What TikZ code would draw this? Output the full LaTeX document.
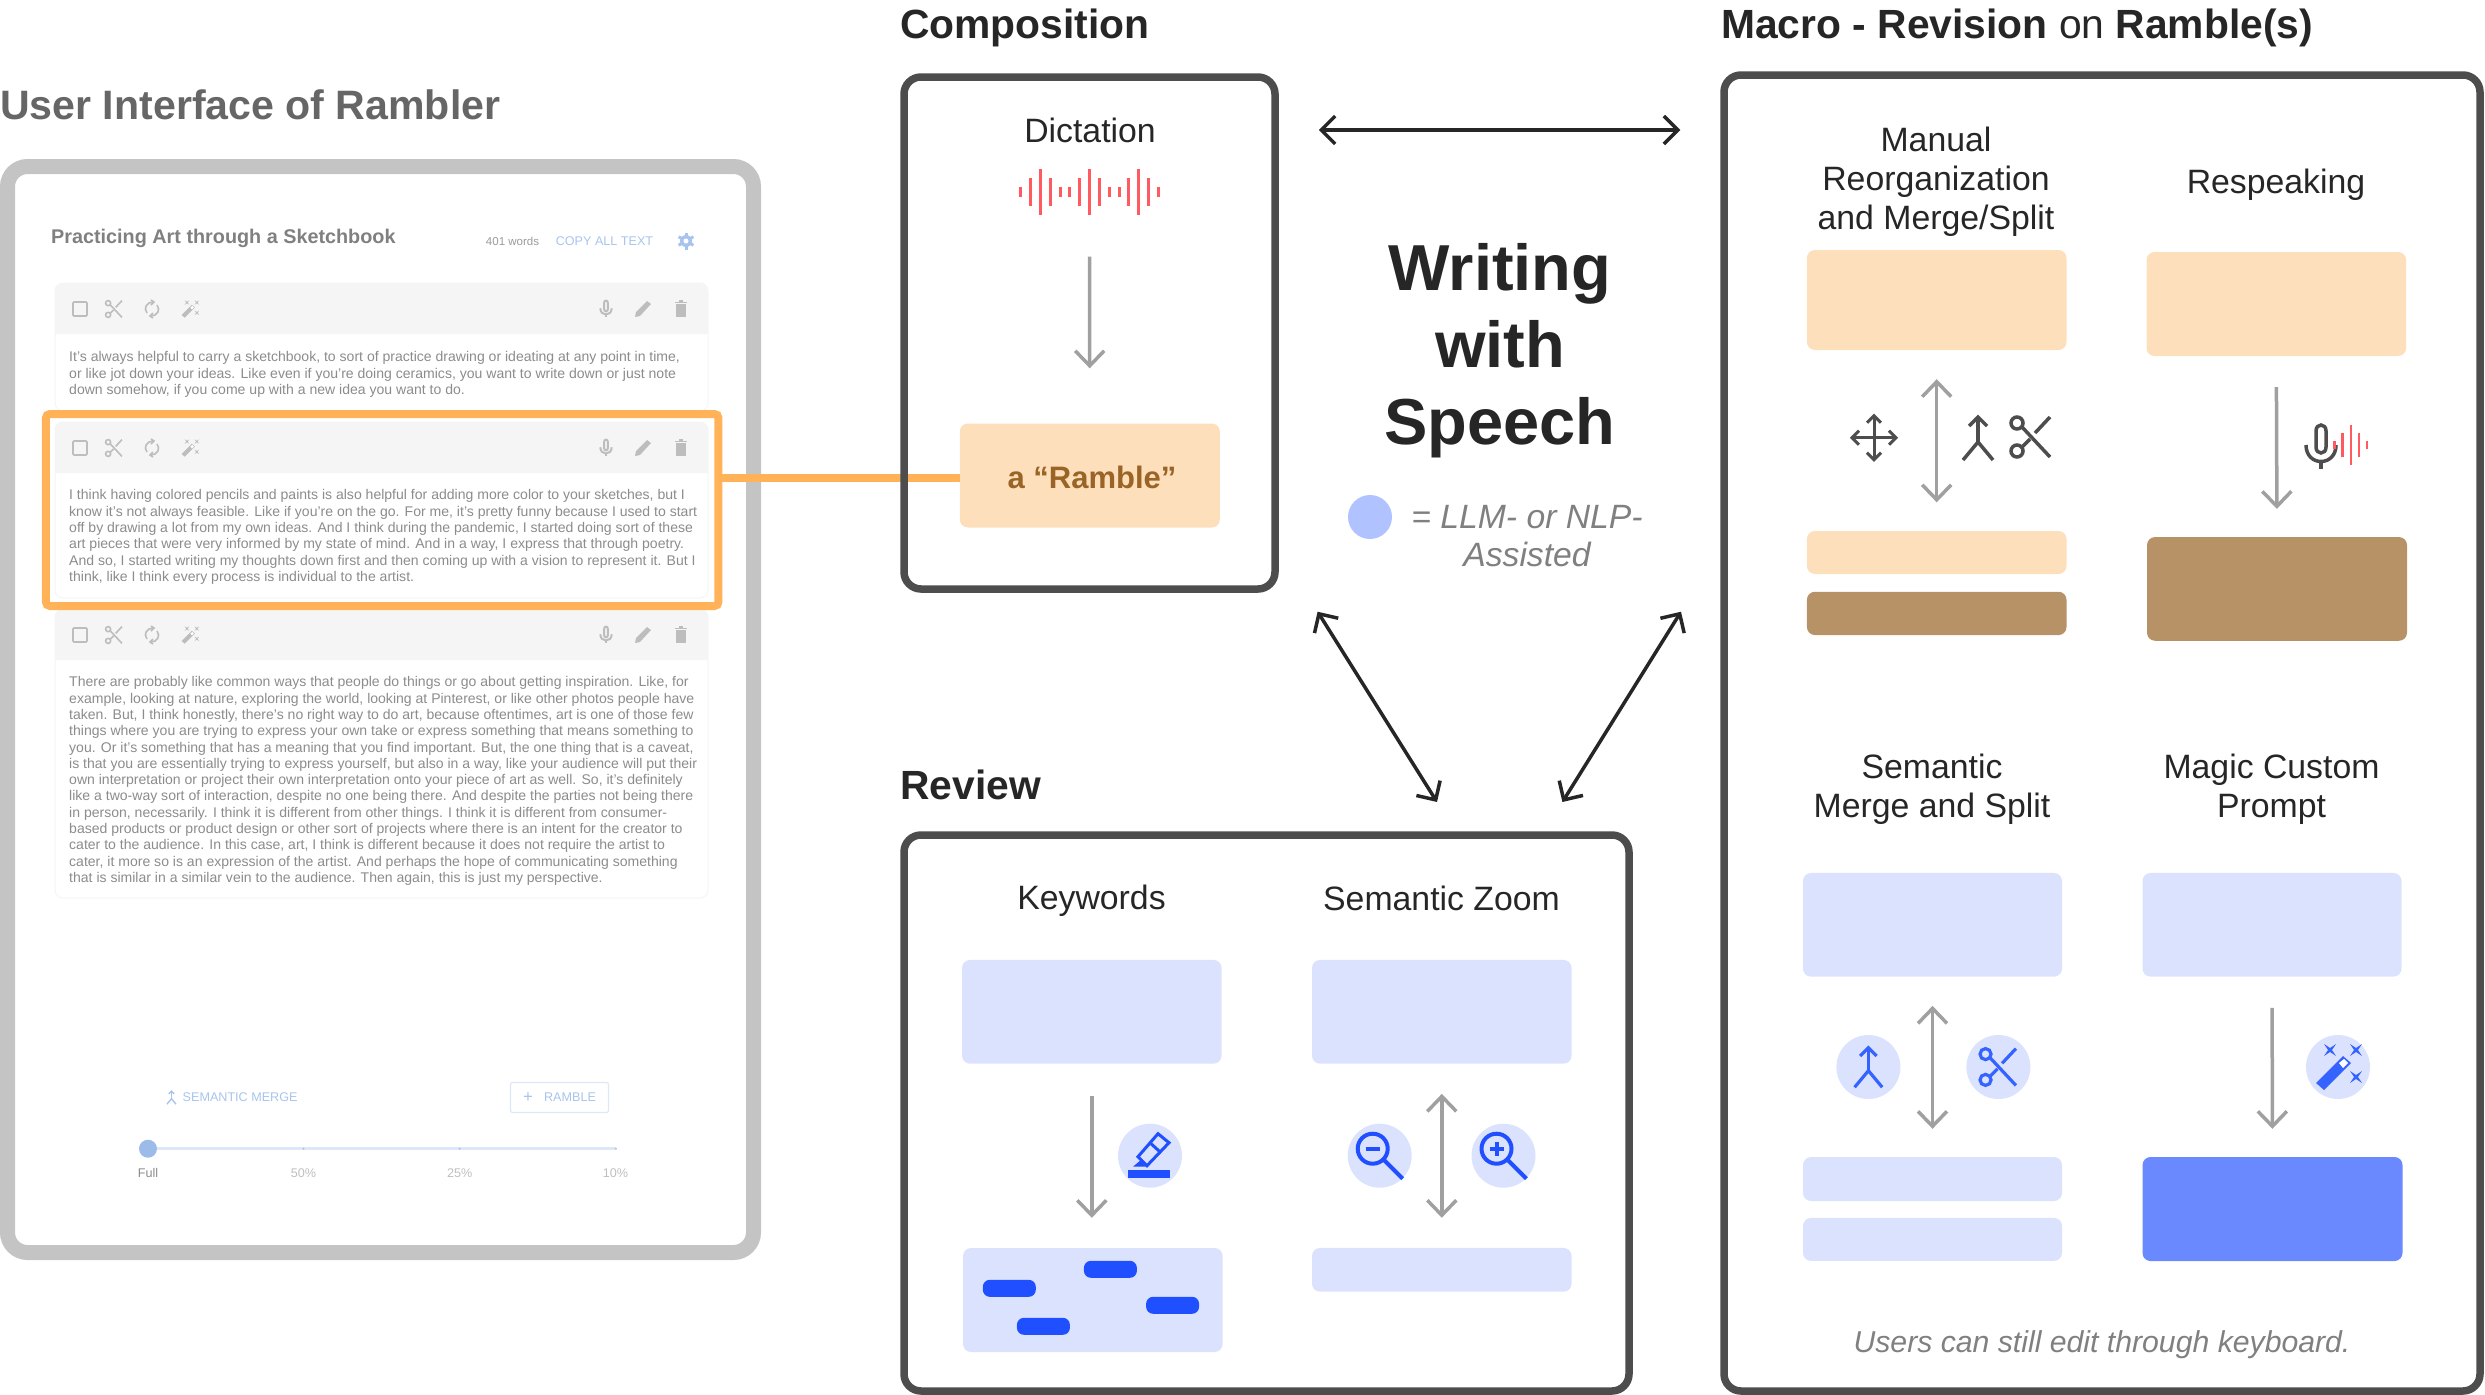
\documentclass[tikz,border=0pt]{standalone}
\usepackage{fontspec}
\setmainfont{Liberation Sans}
\usetikzlibrary{arrows.meta}

\definecolor{peachfill}{HTML}{FDDFBB}
\definecolor{brownfill}{HTML}{B89267}
\definecolor{lilacfill}{HTML}{DBE2FE}
\definecolor{bluefill}{HTML}{6A89FF}
\definecolor{iconblue}{HTML}{3563FF}
\definecolor{pillblue}{HTML}{1F4FFF}
\definecolor{framegray}{HTML}{4D4D4D}
\definecolor{arrowgray}{HTML}{A0A0A0}
\definecolor{inkblack}{HTML}{262626}
\definecolor{uiframe}{HTML}{C4C4C4}
\definecolor{hiliteorange}{HTML}{FFB257}
\definecolor{wavered}{HTML}{FF5A5F}
\definecolor{legendblue}{HTML}{B0C2FF}
\definecolor{captiongray}{HTML}{808080}
\definecolor{uiblue}{HTML}{A8C4EE}
\definecolor{uiknobfill}{HTML}{9DBBE8}
\definecolor{ramblebrown}{HTML}{9A6427}
\definecolor{uiicon}{HTML}{BDBDBD}
\definecolor{uitext}{HTML}{8C8C8C}

\tikzset{
  softbox/.style={rectangle, rounded corners=8pt, inner sep=0pt},
  peachbox/.style={softbox, fill=peachfill},
  brownbox/.style={softbox, fill=brownfill},
  lilacbox/.style={softbox, fill=lilacfill},
  bluebox/.style={softbox, fill=bluefill},
  pillbox/.style={rectangle, rounded corners=7pt, fill=pillblue, minimum width=53pt, minimum height=17pt, inner sep=0pt},
  panel/.style={rectangle, draw=framegray, line width=7.5pt, rounded corners=17pt, inner sep=0pt},
  heading/.style={inner sep=0pt, anchor=west, text=inkblack, font=\fontsize{40.8}{48}\selectfont\bfseries},
  sublabel/.style={inner sep=0pt, align=center, text=inkblack, font=\fontsize{33.8}{39}\selectfont},
  caption/.style={inner sep=0pt, align=center, text=captiongray, font=\fontsize{33.7}{38}\selectfont\itshape},
  para/.style={inner sep=0pt, anchor=north west, align=left, text=uitext, font=\fontsize{14.04}{16.3}\selectfont},
  uismall/.style={inner sep=0pt, font=\fontsize{12.6}{15}\selectfont},
  grayarrow/.style={draw=arrowgray, line width=3.5pt, >={Straight Barb[length=15pt,width=29pt,line width=3.5pt]}},
  blackarrow/.style={draw=inkblack, line width=3.5pt, >={Straight Barb[length=14pt,width=28pt,line width=3.5pt]}},
  wavebar/.style={draw=wavered, line width=3pt},
  iconback/.style={circle, fill=lilacfill, minimum size=64pt, inner sep=0pt},
  scissoricon/.pic={
    \draw (-14,-14) circle[radius=6pt];
    \draw (-14,14) circle[radius=6pt];
    \draw (-9,-10) -- (19,20);
    \draw (-9,10) -- (-1,2);
    \draw (4,-4) -- (19,-20);
  },
  mergeicon/.pic={
    \draw (-9,-12) -- (0,-21) -- (9,-12);
    \draw (0,-21) -- (0,4);
    \draw (-15,22) -- (0,4) -- (15,22);
  },
  moveicon/.pic={
    \draw (-22,0) -- (22,0);
    \draw (0,-22) -- (0,22);
    \draw (-15,-7) -- (-22,0) -- (-15,7);
    \draw (15,-7) -- (22,0) -- (15,7);
    \draw (-7,-15) -- (0,-22) -- (7,-15);
    \draw (-7,15) -- (0,22) -- (7,15);
  },
  micicon/.pic={
    \draw (-5,-16) .. controls (-5,-24) and (5,-24) .. (5,-16) -- (5,0) .. controls (5,8) and (-5,8) .. (-5,0) -- cycle;
    \draw (-15,-2) .. controls (-15,20) and (15,20) .. (15,-2);
    \draw (0,13) -- (0,22);
  },
  zoomouticon/.pic={
    \draw (-7,-7) circle[radius=15pt];
    \draw (4,4) -- (23,23);
    \draw (-14,-7) -- (0,-7);
  },
  zoominicon/.pic={
    \draw (-7,-7) circle[radius=15pt];
    \draw (4,4) -- (23,23);
    \draw (-14,-7) -- (0,-7);
    \draw (-7,-14) -- (-7,0);
  },
  highlighticon/.pic={
    \draw (-12,1) -- (8,-22) -- (19,-13) -- (-3,10) -- cycle;
    \draw (1,-12) -- (11,-3);
    \fill (-10,5) -- (-17,11) -- (-4,11) -- cycle;
    \fill (-22,14) rectangle (20,22);
  },
  wandicon/.pic={
    \fill (-22,16) -- (5,-11) -- (13,-4) -- (-14,23) -- cycle;
    \fill[white] (1,-4) -- (6,-8) -- (10,-4) -- (5,1) -- cycle;
    \foreach \sx/\sy in {-8/-17, 18/-17, 18/10} {
      \fill (\sx-6,\sy-6) -- (\sx,\sy-2) -- (\sx+6,\sy-6) -- (\sx+2,\sy) -- (\sx+6,\sy+6) -- (\sx,\sy+2) -- (\sx-6,\sy+6) -- (\sx-2,\sy) -- cycle;
    }
  },
  refreshicon/.pic={
    \draw (-5,4) .. controls (-9,-1) and (-5,-7) .. (1,-7);
    \draw (5,-4) .. controls (9,1) and (5,7) .. (-1,7);
    \draw (-1,-9) -- (2,-7) -- (-1,-4);
    \draw (1,9) -- (-2,7) -- (1,4);
  },
  penicon/.pic={
    \fill (-8,8) -- (-7,3) -- (4,-8) -- (8,-5) -- (-3,7) -- cycle;
  },
  trashicon/.pic={
    \fill (-5,-5) rectangle (5,8);
    \fill (-6,-7) rectangle (6,-6);
    \fill (-2,-9) rectangle (2,-7);
  },
  gearicon/.pic={
    \fill (0,0) circle[radius=6pt];
    \foreach \a in {30,90,...,330} {\draw[line width=3pt] (0,0) -- (\a:8.5pt);}
    \fill[white] (0,0) circle[radius=2.5pt];
  }
}

\begin{document}
\begin{tikzpicture}[x=1pt, y=-1pt, line cap=butt]
\useasboundingbox (0,0) rectangle (2485,1395);

\node[heading, text=black!60, font=\fontsize{41.1}{48}\selectfont\bfseries] (uititle) at (0,105) {User Interface of Rambler};
\node[rectangle, draw=uiframe, line width=15pt, rounded corners=20pt, minimum width=746pt, minimum height=1086pt, inner sep=0pt] (uiframe) at (380.5,709.5) {};

\node[inner sep=0pt, anchor=west, text=captiongray, font=\fontsize{19.8}{24}\selectfont\bfseries] (uidoc) at (51,238) {Practicing Art through a Sketchbook};
\node[uismall, text=captiongray!80, font=\fontsize{11.5}{14}\selectfont] (uiwords) at (512.5,241) {401 words};
\node[uismall, text=uiblue] (uicopy) at (604.5,241) {COPY ALL TEXT};
\pic[color=uiblue] at (686,241) {gearicon};

\foreach \t/\h/\b in {283/334/411, 422/473/598, 609/660/898} {
  \draw[draw=black!4, fill=white, line width=1pt, rounded corners=8pt] (55,\t) rectangle (708,\b);
  \fill[black!4, rounded corners=8pt] (55,\h) -- (55,\t) -- (708,\t) -- (708,\h);
  \draw[uiicon, line width=1.6pt, rounded corners=1pt] (73,\h-32) rectangle (87,\h-18);
  \pic[color=uiicon, scale=.42, line width=1.6pt] at (114,\h-25) {scissoricon};
  \pic[color=uiicon, line width=1.6pt] at (152,\h-25) {refreshicon};
  \pic[color=uiicon, scale=.38] at (190,\h-25) {wandicon};
  \pic[color=uiicon, scale=.38, line width=2pt] at (606,\h-25) {micicon};
  \pic[color=uiicon] at (643,\h-25) {penicon};
  \pic[color=uiicon] at (681,\h-25) {trashicon};
}

\node[para] (parafirst) at (69,351.5) {It's always helpful to carry a sketchbook, to sort of practice drawing or ideating at any point in time,\\or like jot down your ideas. Like even if you're doing ceramics, you want to write down or just note\\down somehow, if you come up with a new idea you want to do.};
\node[para] (parasecond) at (69,489.5) {I think having colored pencils and paints is also helpful for adding more color to your sketches, but I\\know it's not always feasible. Like if you're on the go. For me, it's pretty funny because I used to start\\off by drawing a lot from my own ideas. And I think during the pandemic, I started doing sort of these\\art pieces that were very informed by my state of mind. And in a way, I express that through poetry.\\And so, I started writing my thoughts down first and then coming up with a vision to represent it. But I\\think, like I think every process is individual to the artist.};
\node[para] (parathird) at (69,676.5) {There are probably like common ways that people do things or go about getting inspiration. Like, for\\example, looking at nature, exploring the world, looking at Pinterest, or like other photos people have\\taken. But, I think honestly, there's no right way to do art, because oftentimes, art is one of those few\\things where you are trying to express your own take or express something that means something to\\you. Or it's something that has a meaning that you find important. But, the one thing that is a caveat,\\is that you are essentially trying to express yourself, but also in a way, like your audience will put their\\own interpretation or project their own interpretation onto your piece of art as well. So, it's definitely\\like a two-way sort of interaction, despite no one being there. And despite the parties not being there\\in person, necessarily. I think it is different from other things. I think it is different from consumer-\\based products or product design or other sort of projects where there is an intent for the creator to\\cater to the audience. In this case, art, I think is different because it does not require the artist to\\cater, it more so is an expression of the artist. And perhaps the hope of communicating something\\that is similar in a similar vein to the audience. Then again, this is just my perspective.};

\pic[color=uiblue, scale=.3, line width=1.4pt] at (171.5,1097.5) {mergeicon};
\node[uismall, text=uiblue, anchor=west] (uimerge) at (182.5,1097.5) {SEMANTIC MERGE};
\node[rectangle, draw=uiblue!40, line width=1.2pt, rounded corners=2pt, minimum width=98pt, minimum height=30pt, inner sep=0pt] (uiramble) at (559.5,1097.5) {};
\node[uismall, text=uiblue, font=\fontsize{17}{20}\selectfont] (uiplus) at (528,1097.5) {+};
\node[uismall, text=uiblue] (uirambletext) at (570,1097.5) {RAMBLE};

\draw[uiblue!40, line width=3.5pt] (148,1148.7) -- (616,1148.7);
\foreach \p in {303.5,459.7,616} {\fill[uiblue] (\p,1148.7) circle[radius=1.2pt];}
\node[circle, fill=uiknobfill, minimum size=18pt, inner sep=0pt] (uiknob) at (148,1148.7) {};
\node[uismall, text=black!45] (uifull) at (148,1173) {Full};
\node[uismall, text=black!25] (uififty) at (303.5,1173) {50\%};
\node[uismall, text=black!25] (uiquarter) at (459.7,1173) {25\%};
\node[uismall, text=black!25] (uiten) at (615.4,1173) {10\%};

\node[rectangle, draw=hiliteorange, line width=8pt, rounded corners=4pt, minimum width=672.5pt, minimum height=192pt, inner sep=0pt] (hilite) at (382.2,510) {};
\node[peachbox, minimum width=260pt, minimum height=104pt] (rambleblock) at (1089.8,475.5) {};
\draw[draw=hiliteorange, line width=8pt] ([yshift=-2pt]rambleblock.west -| hilite.east) -- ([yshift=-2pt]rambleblock.west);
\node[inner sep=0pt, text=ramblebrown, font=\fontsize{31}{38}\selectfont\bfseries] (rambletext) at (1092,477) {a “Ramble”};

\node[heading] (comphead) at (900,28) {Composition};
\node[panel, minimum width=371pt, minimum height=512pt] (compframe) at (1089.5,333) {};
\node[sublabel] (dictlabel) at (1090,130) {Dictation};
\node[inner sep=0pt, minimum width=140pt, minimum height=46pt] (dictwave) at (1089.5,192.4) {};
\foreach \i/\h in {0/5,1/14,2/23,3/14,4/5,5/5,6/14,7/23,8/14,9/5,10/5,11/14,12/23,13/14,14/5} {
  \draw[wavebar] ({1020.6+\i*9.85},{192.4-\h}) -- ({1020.6+\i*9.85},{192.4+\h});
}
\draw[grayarrow, ->, shorten <=41pt, shorten >=55pt] (dictwave.south) -- (rambleblock.north);

\node[inner sep=0pt, align=center, text=inkblack, font=\fontsize{65}{77}\selectfont\bfseries] (bigtitle) at (1500,351) {Writing\\with\\Speech};
\node[circle, fill=legendblue, minimum size=44pt, inner sep=0pt] (legenddot) at (1370,517) {};
\node[caption] (legendtext) at (1527,536) {= LLM- or NLP-\\Assisted};

\node[heading] (reviewhead) at (900,785) {Review};
\node[panel, minimum width=725pt, minimum height=556pt] (reviewframe) at (1266.5,1113) {};
\node[sublabel] (keylabel) at (1091.5,901) {Keywords};
\node[sublabel] (zoomlabel) at (1441.5,898) {Semantic Zoom};
\node[lilacbox, minimum width=259.6pt, minimum height=103.7pt] (keytop) at (1091.8,1011.8) {};
\node[lilacbox, minimum width=259.6pt, minimum height=103.7pt] (zoomtop) at (1441.8,1011.8) {};
\node[lilacbox, minimum width=259.6pt, minimum height=104pt] (keybot) at (1092.8,1300) {};
\node[lilacbox, minimum width=259.6pt, minimum height=43.7pt] (zoombot) at (1441.8,1269.8) {};
\node[pillbox] (pilla) at (1110.4,1269.3) {};
\node[pillbox] (pillb) at (1009.3,1288.3) {};
\node[pillbox] (pillc) at (1172.6,1305.3) {};
\node[pillbox] (pilld) at (1043.4,1326.3) {};
\draw[grayarrow, ->, shorten <=32pt, shorten >=30pt] (keytop.south) -- (keytop.south |- keybot.north);
\draw[grayarrow, <->, shorten <=30pt, shorten >=30pt] (zoomtop.south) -- (zoombot.north);
\node[iconback] (markback) at (1150,1155.7) {};
\node[iconback] (outback) at (1379.7,1155.7) {};
\node[iconback] (inback) at (1503.5,1155.7) {};
\pic[color=pillblue, line width=3pt] at (markback) {highlighticon};
\pic[color=pillblue, line width=4pt] at (outback) {zoomouticon};
\pic[color=pillblue, line width=4pt] at (inback) {zoominicon};

\node[heading] (macrohead) at (1721,28) {Macro - Revision \textmd{on} Ramble(s)};
\node[panel, minimum width=756pt, minimum height=1316pt] (macroframe) at (2102,733) {};
\node[sublabel] (manuallabel) at (1936,182) {Manual\\Reorganization\\and Merge/Split};
\node[sublabel] (respeaklabel) at (2276,185) {Respeaking};
\node[peachbox, minimum width=259.6pt, minimum height=100pt] (manualtop) at (1936.7,300) {};
\node[peachbox, minimum width=259.6pt, minimum height=104pt] (respeaktop) at (2276.3,304) {};
\node[peachbox, minimum width=259.6pt, minimum height=43pt] (manualone) at (1936.7,552.5) {};
\node[brownbox, minimum width=259.6pt, minimum height=43.3pt] (manualtwo) at (1936.7,613.4) {};
\node[brownbox, minimum width=260pt, minimum height=103.7pt] (respeakbot) at (2277,588.9) {};
\draw[grayarrow, <->, shorten <=29pt, shorten >=28.5pt] (manualtop.south) -- (manualone.north);
\draw[grayarrow, ->, shorten <=31pt, shorten >=28pt] (respeaktop.south) -- (respeakbot.north);
\pic[color=framegray, line width=3pt] at (1874,437.7) {moveicon};
\pic[color=framegray, line width=3.5pt] at (1978,438) {mergeicon};
\pic[color=framegray, line width=3.5pt] at (2031,437) {scissoricon};
\pic[color=framegray, line width=3.5pt] at (2321,447) {micicon};
\foreach \x/\h in {2334.3/4,2342.7/12,2351/20,2359/12,2367/4} {
  \draw[wavebar, line width=2.5pt] (\x,444.7-\h) -- (\x,444.7+\h);
}

\node[sublabel] (semanticlabel) at (1932,789) {Semantic\\Merge and Split};
\node[sublabel] (magiclabel) at (2271.5,789) {Magic Custom\\Prompt};
\node[lilacbox, minimum width=259pt, minimum height=103.7pt] (semantictop) at (1932.5,924.8) {};
\node[lilacbox, minimum width=259pt, minimum height=103.7pt] (magictop) at (2272,924.8) {};
\node[lilacbox, minimum width=259pt, minimum height=44pt] (semanticone) at (1932.5,1179) {};
\node[lilacbox, minimum width=259pt, minimum height=43pt] (semantictwo) at (1932.5,1239.4) {};
\node[bluebox, minimum width=260pt, minimum height=104pt] (magicbot) at (2272.5,1209) {};
\draw[grayarrow, <->, shorten <=29pt, shorten >=28pt] (semantictop.south) -- (semanticone.north);
\draw[grayarrow, ->, shorten <=31pt, shorten >=28pt] (magictop.south) -- (magicbot.north);
\node[iconback] (mergeback) at (1868.4,1067) {};
\node[iconback] (splitback) at (1998.4,1067) {};
\node[iconback] (wandback) at (2338,1067) {};
\pic[color=iconblue, line width=3.2pt, scale=.92] at (mergeback) {mergeicon};
\pic[color=iconblue, line width=3.2pt, scale=.92] at (splitback) {scissoricon};
\pic[color=iconblue] at (wandback) {wandicon};
\node[caption, font=\fontsize{30.2}{38}\selectfont\itshape] (keyboardnote) at (2102,1345) {Users can still edit through keyboard.};

\draw[blackarrow, <->, shorten <=40pt, shorten >=40pt] (compframe.east |- dictlabel) -- (macroframe.west |- dictlabel);
\coordinate (compfoot) at (1317.6,611.7);
\coordinate (reviewleft) at (1437,802);
\coordinate (macrofoot) at (1681,611.7);
\coordinate (reviewright) at (1562.4,802);
\draw[blackarrow, <->] (compfoot) -- (reviewleft);
\draw[blackarrow, <->] (macrofoot) -- (reviewright);
\end{tikzpicture}
\end{document}
